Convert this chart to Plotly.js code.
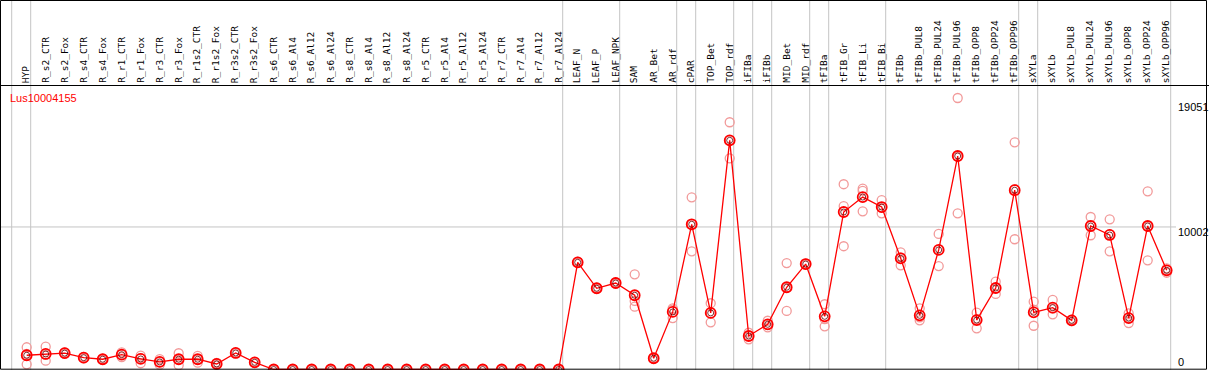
<!DOCTYPE html>
<html>
<head>
<meta charset="utf-8">
<script src="https://cdn.plot.ly/plotly-3.0.1.min.js"></script>
<style>html,body{margin:0;padding:0;background:#fff;}#chart{width:1209px;height:370px;}</style>
</head>
<body>
<div id="chart"></div>
<script>
const categories = ["HYP","R_s2_CTR","R_s2_Fox","R_s4_CTR","R_s4_Fox","R_r1_CTR","R_r1_Fox","R_r3_CTR","R_r3_Fox","R_r1s2_CTR","R_r1s2_Fox","R_r3s2_CTR","R_r3s2_Fox","R_s6_CTR","R_s6_Al4","R_s6_Al12","R_s6_Al24","R_s8_CTR","R_s8_Al4","R_s8_Al12","R_s8_Al24","R_r5_CTR","R_r5_Al4","R_r5_Al12","R_r5_Al24","R_r7_CTR","R_r7_Al4","R_r7_Al12","R_r7_Al24","LEAF_N","LEAF_P","LEAF_NPK","SAM","AR_Bet","AR_rdf","cPAR","TOP_Bet","TOP_rdf","iFIBa","iFIBb","MID_Bet","MID_rdf","tFIBa","tFIB_Gr","tFIB_Li","tFIB_Bi","tFIBb","tFIBb_PUL8","tFIBb_PUL24","tFIBb_PUL96","tFIBb_OPP8","tFIBb_OPP24","tFIBb_OPP96","sXYLa","sXYLb","sXYLb_PUL8","sXYLb_PUL24","sXYLb_PUL96","sXYLb_OPP8","sXYLb_OPP24","sXYLb_OPP96"];

const meanValues = [1000,1090,1150,830,720,1040,740,530,720,720,390,1160,505,
  0,0,0,0,0,0,0,0,0,0,0,0,0,0,0,0,
  7520,5700,6070,5210,790,4040,10190,3970,16080,2350,3170,5770,7400,3730,11050,12100,11400,7800,3800,8390,14980,3470,5720,12580,4010,4340,3450,10070,9440,3610,10070,6960];

const rep1 = [1560,1600,1200,880,760,1200,980,730,1140,960,460,1180,540,
  0,0,0,0,0,0,0,0,0,0,0,0,0,0,0,0,
  7560,5740,6110,6680,820,4290,12080,4650,17350,2580,3420,7470,7440,4580,13000,12690,11890,8220,4290,9510,19051,3990,6160,15940,4760,4880,3500,10700,10540,3940,12500,7100];
const rep2 = [1090,1050,1150,830,720,1050,800,520,720,720,390,1160,505,
  0,0,0,0,0,0,0,0,0,0,0,0,0,0,0,0,
  7520,5700,6070,4810,790,4200,10190,3950,16080,2350,3130,5730,7400,3540,11470,12530,11360,7870,3660,8400,14930,3530,5700,12660,4200,4270,3450,10090,9480,3630,10050,6990];
const rep3 = [360,620,1100,780,680,870,440,340,300,480,320,1140,470,
  0,0,0,0,0,0,0,0,0,0,0,0,0,0,0,0,
  7480,5660,6030,4410,760,3610,8290,3310,14820,2120,2960,4110,7360,3030,8650,11100,10960,7310,3450,7260,10960,2890,5300,9140,3070,3870,3400,9420,8290,3260,7660,6790];

const seriesName = "Lus10004155";
const yTickValues = [0, 10002, 19051];
const groupSeparatorsAfter = [-1,0,28,31,34,35,37,38,39,41,42,45,52,53,60];

const idx = categories.map((c,i)=>i);
const W = 1209, H = 370;
const pxPerUnitX = 19, firstX = 26.7;
const xmin = -firstX/pxPerUnitX, xmax = xmin + W/pxPerUnitX;
const unitsPerPx = 19051/271.5;
const ymin = -0.5*unitsPerPx, ymax = ymin + H*unitsPerPx;

const repX = [], repY = [];
[rep1,rep2,rep3].forEach(r=>r.forEach((v,i)=>{repX.push(i); repY.push(v);}));

const traces = [
  {x: repX, y: repY, mode:'markers', type:'scatter', hoverinfo:'skip',
   marker:{symbol:'circle-open', size:9, color:'#f29a9a', line:{width:1.3, color:'#f29a9a'}}},
  {x: idx, y: meanValues, mode:'lines', type:'scatter', line:{color:'#ff0000', width:1.3}},
  {x: idx, y: meanValues, mode:'markers', type:'scatter',
   marker:{symbol:'circle-open', size:10, color:'#ff0000', line:{width:1.8, color:'#ff0000'}}},
  {x: idx, y: meanValues, mode:'markers', type:'scatter',
   marker:{symbol:'circle-open', size:6, color:'#600000', line:{width:0.8, color:'#600000'}}}
];

const shapes = [];
groupSeparatorsAfter.forEach(k=>{
  shapes.push({type:'line', xref:'x', yref:'paper', x0:k+0.21, x1:k+0.21, y0:0, y1:1,
    line:{color:'#c4c4c4', width:1}, layer:'below'});
});
shapes.push({type:'line', xref:'paper', yref:'y', x0:0, x1:1176/W, y0:yTickValues[1], y1:yTickValues[1],
  line:{color:'#c4c4c4', width:1}, layer:'below'});
shapes.push({type:'line', xref:'paper', yref:'paper', x0:0, x1:1, y0:(H-85.5)/H, y1:(H-85.5)/H, line:{color:'#000', width:1}});
shapes.push({type:'rect', xref:'paper', yref:'paper', x0:0.5/W, x1:1206.5/W, y0:0.8/H, y1:(H-0.5)/H, line:{color:'#000', width:1}});

const annotations = categories.map((c,i)=>({
  x:i, xref:'x', y:(H-84)/H, yref:'paper', text:c, showarrow:false, textangle:-90,
  xanchor:'center', yanchor:'bottom', xshift:-1, borderpad:0,
  font:{family:'DejaVu Sans Mono, monospace', size:9.5, color:'#000'}
}));
annotations.push({x:9/W, xref:'paper', y:(H-98)/H, yref:'paper', text:seriesName, showarrow:false,
  xanchor:'left', yanchor:'middle', borderpad:0, font:{family:'Liberation Sans, Arial, sans-serif', size:11, color:'#ff0000'}});
const tickShift = [7.8, -5.3, -8.7];
yTickValues.forEach((v,k)=>{
  annotations.push({x:1177/W, xref:'paper', y:v, yref:'y', text:String(v), showarrow:false,
    xanchor:'left', yanchor:'middle', yshift:tickShift[k], borderpad:0,
    font:{family:'Liberation Sans, Arial, sans-serif', size:11, color:'#000'}});
});

const layout = {
  width:W, height:H, margin:{l:0,r:0,t:0,b:0}, showlegend:false,
  paper_bgcolor:'#fff', plot_bgcolor:'#fff',
  xaxis:{range:[xmin,xmax], visible:false, fixedrange:true},
  yaxis:{range:[ymin,ymax], visible:false, fixedrange:true},
  shapes:shapes, annotations:annotations
};
Plotly.newPlot('chart', traces, layout, {displayModeBar:false, staticPlot:true});
</script>
</body>
</html>
